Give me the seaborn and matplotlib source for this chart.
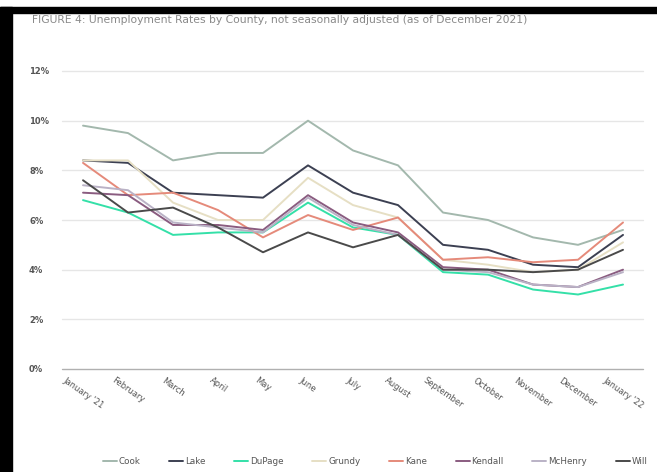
import matplotlib
matplotlib.use("Agg")
import matplotlib.pyplot as plt
import seaborn as sns
import pandas as pd
from matplotlib.patches import Rectangle

months = ["January '21", "February", "March", "April", "May", "June", "July",
          "August", "September", "October", "November", "December", "January '22"]

cook = [9.8, 9.5, 8.4, 8.7, 8.7, 10.0, 8.8, 8.2, 6.3, 6.0, 5.3, 5.0, 5.6]
lake = [8.4, 8.3, 7.1, 7.0, 6.9, 8.2, 7.1, 6.6, 5.0, 4.8, 4.2, 4.1, 5.4]
dupage = [6.8, 6.3, 5.4, 5.5, 5.5, 6.7, 5.7, 5.4, 3.9, 3.8, 3.2, 3.0, 3.4]
grundy = [8.4, 8.4, 6.7, 6.0, 6.0, 7.7, 6.6, 6.1, 4.4, 4.2, 3.9, 4.0, 5.1]
kane = [8.3, 7.0, 7.1, 6.4, 5.3, 6.2, 5.6, 6.1, 4.4, 4.5, 4.3, 4.4, 5.9]
kendall = [7.1, 7.0, 5.8, 5.8, 5.6, 7.0, 5.9, 5.5, 4.1, 4.0, 3.4, 3.3, 4.0]
mchenry = [7.4, 7.2, 5.9, 5.7, 5.5, 6.9, 5.8, 5.4, 4.0, 3.9, 3.4, 3.3, 3.9]
will = [7.6, 6.3, 6.5, 5.7, 4.7, 5.5, 4.9, 5.4, 4.0, 4.0, 3.9, 4.0, 4.8]

counties = ["Cook", "Lake", "DuPage", "Grundy", "Kane", "Kendall", "McHenry", "Will"]
series = [cook, lake, dupage, grundy, kane, kendall, mchenry, will]
colors = ["#a3b8ad", "#3c4052", "#34e0a8", "#e6dfc4", "#e58a7a", "#8a5c80", "#bab2c6", "#4a4a4a"]
yticks = [0, 2, 4, 6, 8, 10, 12]

rows = []
for name, vals in zip(counties, series):
    for i, v in enumerate(vals):
        rows.append({"idx": i, "rate": v, "county": name})
df = pd.DataFrame(rows)

sns.set_style("white")
plt.rcParams['font.family'] = ['DejaVu Sans']

fig = plt.figure(figsize=(6.57, 4.72), dpi=100)
ax = fig.add_axes([62/657, (472-369)/472, (643-62)/657, (369-71)/472])

palette = dict(zip(counties, colors))
sns.lineplot(data=df, x="idx", y="rate", hue="county", palette=palette,
             hue_order=counties, linewidth=1.4, ax=ax, legend=True)

ax.set_xlim(-0.467, 12.444)
ax.set_ylim(0, 12)
ax.set_yticks(yticks)
ax.set_yticklabels([f"{t}%" for t in yticks], fontsize=6, color="#555555", fontweight="bold")
ax.set_xticks(range(len(months)))
ax.set_xticklabels(months, rotation=-35, ha="center", fontsize=6, color="#555555")
ax.tick_params(axis="both", length=0, pad=2)
ax.tick_params(axis="x", pad=5)
for lab in ax.get_yticklabels():
    lab.set_horizontalalignment("left")
    lab.set_x(-0.052)
ax.set_xlabel("")
ax.set_ylabel("")
for s in ax.spines.values():
    s.set_visible(False)
for t in yticks:
    ax.axhline(t, color="#b0b0b0" if t == 0 else "#e6e6e6", linewidth=1.0,
               zorder=0, clip_on=False)

handles, labels = ax.get_legend_handles_labels()
ax.legend_.remove()
leg = fig.legend(handles, labels, loc="center", bbox_to_anchor=(375/657, (472-462)/472),
                 ncol=8, frameon=False, fontsize=6.3, handlelength=1.6,
                 handletextpad=0.2, columnspacing=3.3)
for t in leg.get_texts():
    t.set_color("#555555")

fig.text(32/657, 1 - 20/472, "FIGURE 4: Unemployment Rates by County, not seasonally adjusted (as of December 2021)",
         fontsize=7.75, color="#8a8a8a", va="center", ha="left")

# black frame edges of the original screenshot
fig.patches.append(Rectangle((0, 0), 12/657, 1 - 7/472, transform=fig.transFigure,
                             color="black", zorder=10))
fig.patches.append(Rectangle((0, 1 - 13/472), 1, 6/472, transform=fig.transFigure,
                             color="black", zorder=10))

fig.savefig("out.png", dpi=100)
